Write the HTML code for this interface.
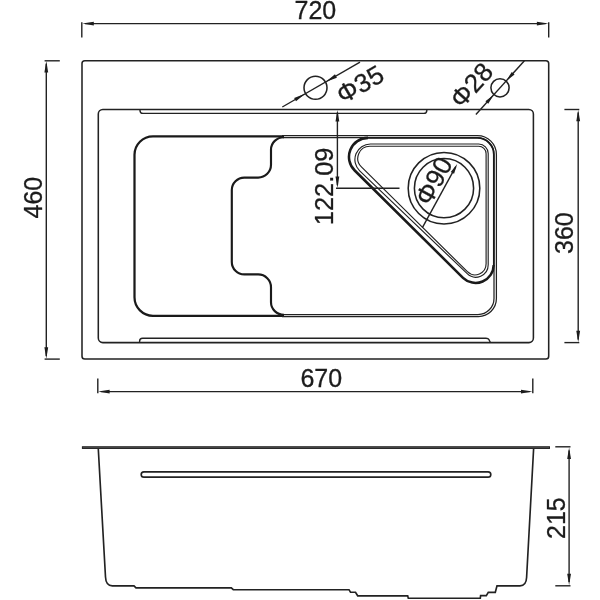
<!DOCTYPE html>
<html><head><meta charset="utf-8">
<style>
html,body{margin:0;padding:0;background:#fff;}
body{width:600px;height:600px;overflow:hidden;}
svg{display:block;will-change:transform;opacity:0.999;}
text{font-family:"Liberation Sans",sans-serif;font-size:25px;fill:#1c1c1c;stroke:#1c1c1c;stroke-width:0.3;}
text.p{font-size:26px;}
.t{stroke:#222;stroke-width:1.4;fill:none;}
.t2{stroke:#222;stroke-width:1.25;fill:none;}
.ti{stroke:#222;stroke-width:1.15;fill:none;}
.sv{stroke:#222;stroke-width:1.65;fill:none;}
.m{stroke:#222;stroke-width:1.55;fill:none;}
.b{stroke:#1a1a1a;stroke-width:2.25;fill:none;}
.s{stroke:#1a1a1a;stroke-width:2.15;fill:none;}
.tm{stroke:#1a1a1a;stroke-width:1.7;fill:none;}
.tk{stroke:#1a1a1a;stroke-width:2.55;fill:none;}
.a{fill:#1c1c1c;stroke:none;}
</style></head><body>
<svg width="600" height="600" viewBox="0 0 600 600">
<rect width="600" height="600" fill="#fff"/>

<rect class="m" x="82.0" y="60.8" width="466.70000000000005" height="298.3" rx="2.8"/>
<rect class="m" x="98.3" y="109.5" width="435.09999999999997" height="233.1" rx="4.5"/>
<path class="t" d="M140,109.6 V110.4 Q140,113.4 143,113.4 H423.8 Q426.8,113.4 426.8,110.4 V109.6"/>
<path class="t" d="M139.6,342.5 V341.2 Q139.6,338.2 142.6,338.2 H486 Q488.2,338.2 489,339.7 L490.4,342.5"/>
<path class="b" d="M284,136.3 H153 A18.5,18.5 0 0 0 134.5,154.8 V297.3 A18.5,18.5 0 0 0 153,315.8 H284"/>
<path class="t2" d="M282,135.6 H477.5 A18.9,18.9 0 0 1 496.4,154.5 V298.5 A18,18 0 0 1 478.4,316.5 H282"/>
<path class="t2" d="M283,137.7 H477.4 A16.6,16.6 0 0 1 494,154.3 V298.5 A16,16 0 0 1 478,314.5 H283"/>
<path class="s" d="M284,137.2 A13,12.5 0 0 0 271,149.8 V164.8 A12.8,12.8 0 0 1 258.2,177.6 H244.3 A12.5,12.5 0 0 0 231.8,190.1 V261.9 A12.5,12.5 0 0 0 244.3,274.4 H258.2 A12.8,12.8 0 0 1 271,287.2 V302.2 A13,12.5 0 0 0 284,314.8"/>

<path class="tm" d="M368,138 L477.3,138 A16.5,16.5 0 0 1 493.8,154.5 L493.8,264.9"/>
<path class="tk" d="M493.7,264.9 A18.1,18.1 0 0 1 463.0,277.8 L354.7,170.5 A19,19 0 0 1 368.0,137.9"/>
<path class="ti" d="M359.7,170.8 A15.56,15.56 0 0 1 370.4,144.0 L478.7,144.0 A9.5,9.5 0 0 1 488.2,153.5 L488.2,264.7 A12.4,12.4 0 0 1 467.2,273.7 Z"/>
<path class="ti" d="M361.4,166.9 A12.1,12.1 0 0 1 369.9,146.2 L478.6,146.2 A7.5,7.5 0 0 1 486.1,153.7 L486.1,263.8 A11.0,11.0 0 0 1 467.4,271.7 Z"/>

<circle class="m" cx="444" cy="188.2" r="35.8"/><circle class="m" cx="444" cy="188.2" r="29.6"/>
<line class="t" x1="422.39" y1="227.67" x2="455.77" y2="166.71"/>
<polygon class="a" points="457.21,164.08 454.07,173.76 450.74,171.94"/>
<text class="p" transform="translate(429.7,206.9) rotate(-61.3)">Φ90</text>
<line class="t" x1="337.40" y1="112.50" x2="337.40" y2="185.20"/>
<line class="t" x1="336.00" y1="188.20" x2="399.50" y2="188.20"/>
<polygon class="a" points="337.40,110.00 339.30,121.50 335.50,121.50"/>
<polygon class="a" points="337.40,188.00 335.50,176.50 339.30,176.50"/>
<text style="font-size:25.4px" transform="translate(332.5,225.2) rotate(-90) scale(1,1.04)">122.09</text>
<circle class="m" cx="315.5" cy="87.8" r="11.5"/>
<line class="t" x1="282.30" y1="107.00" x2="360.00" y2="62.10"/>
<polygon class="a" points="325.98,81.75 334.99,74.35 336.89,77.65"/>
<polygon class="a" points="305.02,93.85 296.01,101.25 294.11,97.95"/>
<text class="p" transform="translate(342.9,104.6) rotate(-30)">Φ35</text>
<circle class="m" cx="500" cy="87.8" r="9.1"/>
<line class="t" x1="475.91" y1="114.55" x2="524.42" y2="60.68"/>
<polygon class="a" points="506.49,80.59 511.77,71.89 514.59,74.43"/>
<polygon class="a" points="493.51,95.01 488.23,103.71 485.41,101.17"/>
<text class="p" transform="translate(461.5,109.6) rotate(-48)">Φ28</text>
<line class="t" x1="85.00" y1="23.60" x2="545.70" y2="23.60"/>
<line class="t" x1="81.80" y1="22.20" x2="81.80" y2="37.40"/>
<line class="t" x1="548.70" y1="22.20" x2="548.70" y2="37.40"/>
<polygon class="a" points="82.30,23.60 93.80,21.70 93.80,25.50"/>
<polygon class="a" points="548.40,23.60 536.90,25.50 536.90,21.70"/>
<text x="294.5" y="18.7">720</text>
<line class="t" x1="46.30" y1="63.80" x2="46.30" y2="356.10"/>
<line class="t" x1="44.60" y1="60.80" x2="59.80" y2="60.80"/>
<line class="t" x1="44.60" y1="359.10" x2="59.80" y2="359.10"/>
<polygon class="a" points="46.30,61.10 48.20,72.60 44.40,72.60"/>
<polygon class="a" points="46.30,358.80 44.40,347.30 48.20,347.30"/>
<text transform="translate(42.2,218.5) rotate(-90)">460</text>
<line class="t" x1="578.20" y1="112.50" x2="578.20" y2="339.60"/>
<line class="t" x1="564.40" y1="109.50" x2="579.30" y2="109.50"/>
<line class="t" x1="564.40" y1="342.60" x2="579.30" y2="342.60"/>
<polygon class="a" points="578.20,109.80 580.10,121.30 576.30,121.30"/>
<polygon class="a" points="578.20,342.30 576.30,330.80 580.10,330.80"/>
<text transform="translate(573.3,254) rotate(-90)">360</text>
<line class="t" x1="100.80" y1="391.60" x2="529.80" y2="391.60"/>
<line class="t" x1="97.80" y1="378.50" x2="97.80" y2="393.20"/>
<line class="t" x1="532.80" y1="378.50" x2="532.80" y2="393.20"/>
<polygon class="a" points="98.10,391.60 109.60,389.70 109.60,393.50"/>
<polygon class="a" points="532.50,391.60 521.00,393.50 521.00,389.70"/>
<text x="300.4" y="387.2">670</text>
<rect x="82.4" y="446.75" width="467.1" height="1.7" fill="#555" stroke="#222" stroke-width="1"/>
<path class="sv" d="M98.3,449 L105.5,577 Q105.9,585.8 112.3,585.8 H134 L136,587.8 H231.3 L233.3,589.7 H349 L350.5,592.2 H355.5 L357.7,595.8 H407.7 L408.3,598.2 H480.3 L480.6,595.6 H486.3 L488.3,592.3 H495.3 L497,585.8 H520 Q526.2,585.8 526.6,577.5 L533.6,449"/>
<rect class="sv" x="141.2" y="471.8" width="349.6" height="5.4" rx="2.7"/>
<line class="t" x1="569.10" y1="450.40" x2="569.10" y2="582.00"/>
<line class="t" x1="555.30" y1="446.80" x2="570.50" y2="446.80"/>
<line class="t" x1="555.30" y1="585.80" x2="570.50" y2="585.80"/>
<polygon class="a" points="569.10,447.50 571.00,459.00 567.20,459.00"/>
<polygon class="a" points="569.10,585.30 567.20,573.80 571.00,573.80"/>
<text transform="translate(564.7,539) rotate(-90)">215</text>
</svg>
</body></html>
